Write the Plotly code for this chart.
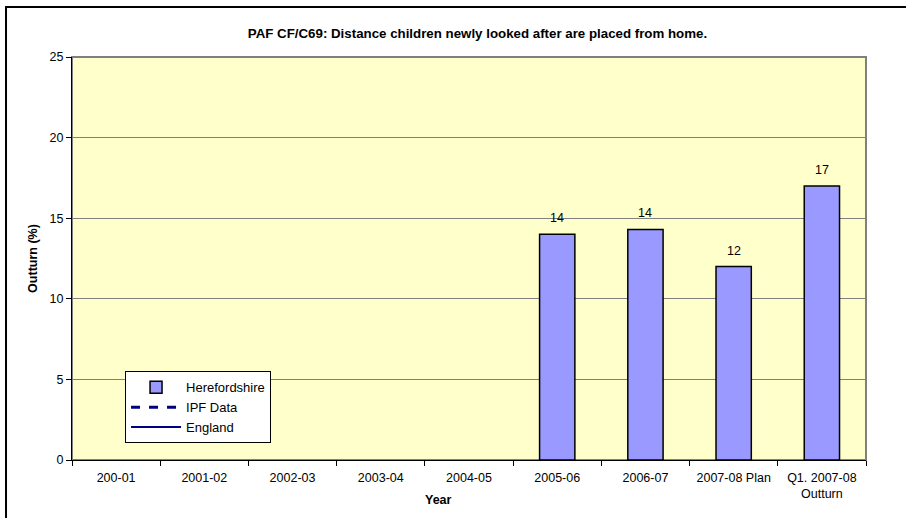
import plotly.graph_objects as go

categories = ["200-01", "2001-02", "2002-03", "2003-04", "2004-05", "2005-06",
              "2006-07", "2007-08 Plan", "Q1. 2007-08<br>Outturn"]
herefordshire = [None, None, None, None, None, 14.0, 14.3, 12.0, 17.0]

FS = 12.5

fig = go.Figure()
fig.add_trace(go.Bar(
    x=categories, y=herefordshire, name="Herefordshire",
    marker=dict(color="#9999FF", line=dict(color="black", width=1.5)),
))
fig.add_trace(go.Scatter(
    x=[categories[0]], y=[None], name="IPF Data", mode="lines",
    line=dict(color="#000080", width=3, dash="dash"),
))
fig.add_trace(go.Scatter(
    x=[categories[0]], y=[None], name="England", mode="lines",
    line=dict(color="#000080", width=2),
))

# data labels
for c, v in zip(categories, herefordshire):
    if v is not None:
        fig.add_annotation(x=c, y=v, text=f"{v:.0f}", showarrow=False,
                           yanchor="middle", yshift=16,
                           font=dict(family="Arial", size=FS, color="black"))

fig.update_layout(
    width=906, height=518,
    margin=dict(l=72, r=40, t=57, b=58),
    paper_bgcolor="white", plot_bgcolor="#FFFFCC",
    font=dict(family="Arial", size=FS, color="black"),
    bargap=0.6,
    title=dict(text="<b>PAF CF/C69: Distance children newly looked after are placed from home.</b>",
               x=0.527, xanchor="center", y=0.936, yanchor="middle",
               font=dict(family="Arial", size=13.3, color="black")),
    legend=dict(x=0.0668, y=0.22, xanchor="left", yanchor="top",
                bgcolor="white", bordercolor="black", borderwidth=1,
                font=dict(family="Arial", size=13, color="black"),
                itemwidth=50, tracegroupgap=0),
    showlegend=True,
)
fig.update_xaxes(
    type="category", tickson="boundaries", ticks="outside", ticklen=5,
    tickcolor="black", showline=True, linecolor="black", linewidth=1,
    showgrid=False, ticklabelstandoff=6,
)
fig.add_annotation(xref="paper", yref="paper", x=0.461, y=-0.0993,
                   text="<b>Year</b>", showarrow=False, yanchor="middle",
                   font=dict(family="Arial", size=FS, color="black"))
fig.update_yaxes(
    range=[0, 25], tickvals=[0, 5, 10, 15, 20, 25], ticks="outside", ticklen=5,
    tickcolor="black", showline=True, linecolor="black", linewidth=1,
    showgrid=True, gridcolor="#808080", gridwidth=1, zeroline=False,
    title=dict(text="<b>Outturn (%)</b>", font=dict(family="Arial", size=FS), standoff=9),
)
# plot area border (top/right gray)
fig.add_shape(type="rect", xref="paper", yref="paper", x0=0, x1=1, y0=0, y1=1,
              line=dict(color="#808080", width=2), layer="below")
# chart outer frame
fig.add_shape(type="rect", xref="paper", yref="paper",
              x0=-0.0831, x1=1.2, y0=-0.3, y1=1.124,
              line=dict(color="black", width=2))

fig.write_html("out.html")
